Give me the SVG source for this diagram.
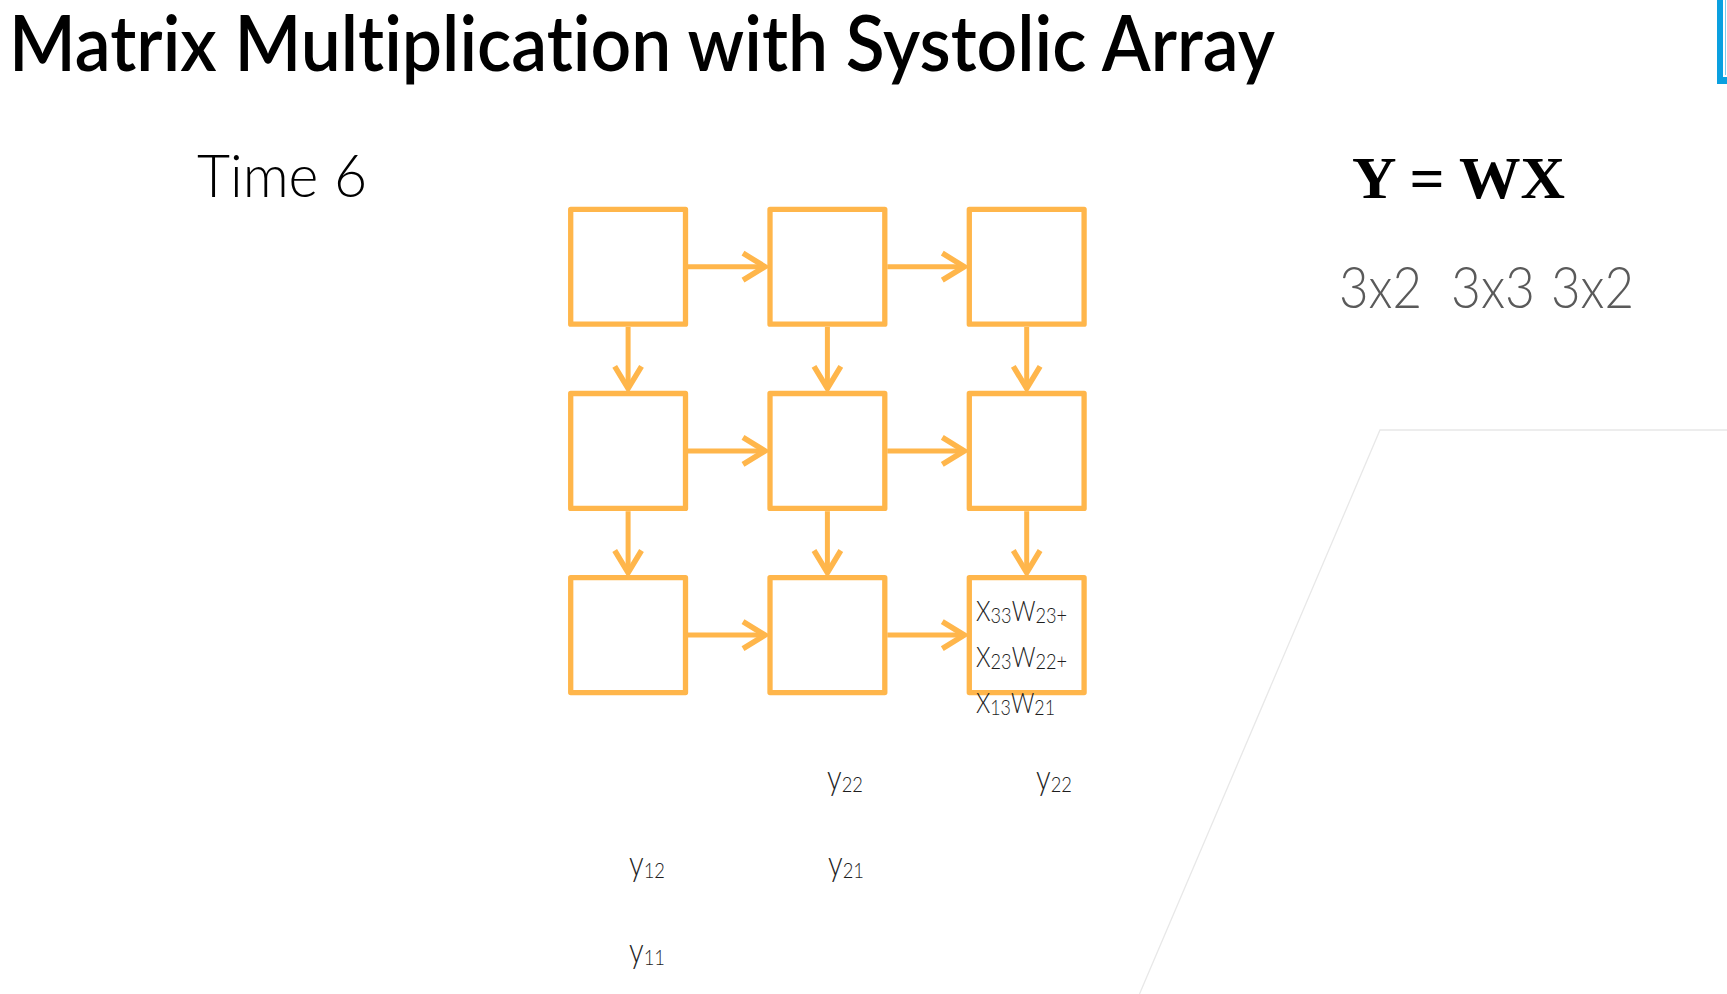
<svg xmlns="http://www.w3.org/2000/svg" width="1727" height="994" viewBox="0 0 1727 994">
<style>
text{font-variant-ligatures:none;font-feature-settings:"liga" 0,"clig" 0,"dlig" 0}
.pe{fill:#FFFFFF;stroke:#FFB64B;stroke-width:5.3;stroke-linejoin:round}
.shaft{stroke:#FFB64B;stroke-width:5;fill:none}
.head{stroke:#FFB64B;stroke-width:5.5;fill:none;stroke-linejoin:miter;stroke-linecap:butt}
.light{font-family:Lato,"Open Sans","Noto Sans",sans-serif;font-weight:300}
.cell{font-family:Lato,"Open Sans","Noto Sans",sans-serif;font-weight:300;fill:#1E1E1E;font-size:27px}
.ylab{font-family:Lato,"Open Sans","Noto Sans",sans-serif;font-weight:300;fill:#1E1E1E;font-size:35px}
</style>
<rect x="0" y="0" width="1727" height="994" fill="#FFFFFF"/>
<g id="background">
<polyline points="1139.5,994 1380,430 1727,430" fill="none" stroke="#E8E8E8" stroke-width="1.3"/>
<rect x="1717" y="0" width="10" height="84" fill="#0AA0E0"/>
<rect x="1723" y="0" width="4" height="77" fill="#FFFFFF"/>
<line x1="1725.5" y1="0" x2="1725.5" y2="75" stroke="#7ACDF0" stroke-width="1"/>
</g>
<g id="title">
<text x="9" y="71" font-family="Lato,'Noto Sans',sans-serif" font-weight="600" font-size="77" fill="#000000" textLength="1266" lengthAdjust="spacingAndGlyphs">Matrix Multiplication with Systolic Array</text>
</g>
<g id="time">
<text class="light" x="197" y="197" font-size="59" fill="#000000" textLength="170" lengthAdjust="spacingAndGlyphs">Time 6</text>
</g>
<g id="equation">
<text x="1352" y="198" font-family="'Liberation Serif','Times New Roman',serif" font-weight="bold" font-size="60" fill="#000000" textLength="213" lengthAdjust="spacingAndGlyphs">Y = WX</text>
<text class="light" x="1339" y="308" font-size="58" fill="#5A5A5A" textLength="83" lengthAdjust="spacingAndGlyphs">3x2</text>
<text class="light" x="1451" y="308" font-size="58" fill="#5A5A5A" textLength="84" lengthAdjust="spacingAndGlyphs">3x3</text>
<text class="light" x="1551" y="308" font-size="58" fill="#5A5A5A" textLength="83" lengthAdjust="spacingAndGlyphs">3x2</text>
</g>
<g id="connectors">
<g id="h-arrows">
<line class="shaft" x1="688" y1="266.7" x2="762" y2="266.7"/><polyline class="head" points="743,253.2 765,266.7 743,280.2"/>
<line class="shaft" x1="887.3" y1="266.7" x2="961.3" y2="266.7"/><polyline class="head" points="942.3,253.2 964.3,266.7 942.3,280.2"/>
<line class="shaft" x1="688" y1="450.9" x2="762" y2="450.9"/><polyline class="head" points="743,437.4 765,450.9 743,464.4"/>
<line class="shaft" x1="887.3" y1="450.9" x2="961.3" y2="450.9"/><polyline class="head" points="942.3,437.4 964.3,450.9 942.3,464.4"/>
<line class="shaft" x1="688" y1="635.1" x2="762" y2="635.1"/><polyline class="head" points="743,621.6 765,635.1 743,648.6"/>
<line class="shaft" x1="887.3" y1="635.1" x2="961.3" y2="635.1"/><polyline class="head" points="942.3,621.6 964.3,635.1 942.3,648.6"/>
</g>
<g id="v-arrows">
<line class="shaft" x1="628.1" y1="327" x2="628.1" y2="386"/><polyline class="head" points="614.7,366.3 628.1,388.5 641.5,366.3"/>
<line class="shaft" x1="827.4" y1="327" x2="827.4" y2="386"/><polyline class="head" points="814,366.3 827.4,388.5 840.8,366.3"/>
<line class="shaft" x1="1026.7" y1="327" x2="1026.7" y2="386"/><polyline class="head" points="1013.3,366.3 1026.7,388.5 1040.1,366.3"/>
<line class="shaft" x1="628.1" y1="511.2" x2="628.1" y2="570.2"/><polyline class="head" points="614.7,550.5 628.1,572.7 641.5,550.5"/>
<line class="shaft" x1="827.4" y1="511.2" x2="827.4" y2="570.2"/><polyline class="head" points="814,550.5 827.4,572.7 840.8,550.5"/>
<line class="shaft" x1="1026.7" y1="511.2" x2="1026.7" y2="570.2"/><polyline class="head" points="1013.3,550.5 1026.7,572.7 1040.1,550.5"/>
</g>
</g>
<g id="pe-1-1"><rect class="pe" x="570.7" y="209.3" width="114.8" height="114.9"/></g>
<g id="pe-1-2"><rect class="pe" x="770" y="209.3" width="114.8" height="114.9"/></g>
<g id="pe-1-3"><rect class="pe" x="969.3" y="209.3" width="114.8" height="114.9"/></g>
<g id="pe-2-1"><rect class="pe" x="570.7" y="393.5" width="114.8" height="114.9"/></g>
<g id="pe-2-2"><rect class="pe" x="770" y="393.5" width="114.8" height="114.9"/></g>
<g id="pe-2-3"><rect class="pe" x="969.3" y="393.5" width="114.8" height="114.9"/></g>
<g id="pe-3-1"><rect class="pe" x="570.7" y="577.7" width="114.8" height="114.9"/></g>
<g id="pe-3-2"><rect class="pe" x="770" y="577.7" width="114.8" height="114.9"/></g>
<g id="pe-3-3"><rect class="pe" x="969.3" y="577.7" width="114.8" height="114.9"/>
<text class="cell" x="976" y="621" textLength="91" lengthAdjust="spacingAndGlyphs">X<tspan font-size="21" dy="2">33</tspan><tspan dy="-2">W</tspan><tspan font-size="21" dy="2">23+</tspan></text>
<text class="cell" x="976" y="667" textLength="91" lengthAdjust="spacingAndGlyphs">X<tspan font-size="21" dy="2">23</tspan><tspan dy="-2">W</tspan><tspan font-size="21" dy="2">22+</tspan></text>
<text class="cell" x="976" y="712.5" textLength="79" lengthAdjust="spacingAndGlyphs">X<tspan font-size="21" dy="2">13</tspan><tspan dy="-2">W</tspan><tspan font-size="21" dy="2">21</tspan></text>
</g>
<g id="outputs">
<text class="ylab" x="827" y="790" textLength="36" lengthAdjust="spacingAndGlyphs">y<tspan font-size="22" dy="2">22</tspan></text>
<text class="ylab" x="1036" y="790" textLength="36" lengthAdjust="spacingAndGlyphs">y<tspan font-size="22" dy="2">22</tspan></text>
<text class="ylab" x="629" y="876" textLength="36" lengthAdjust="spacingAndGlyphs">y<tspan font-size="22" dy="2">12</tspan></text>
<text class="ylab" x="828" y="876" textLength="36" lengthAdjust="spacingAndGlyphs">y<tspan font-size="22" dy="2">21</tspan></text>
<text class="ylab" x="629" y="963" textLength="36" lengthAdjust="spacingAndGlyphs">y<tspan font-size="22" dy="2">11</tspan></text>
</g>
</svg>
